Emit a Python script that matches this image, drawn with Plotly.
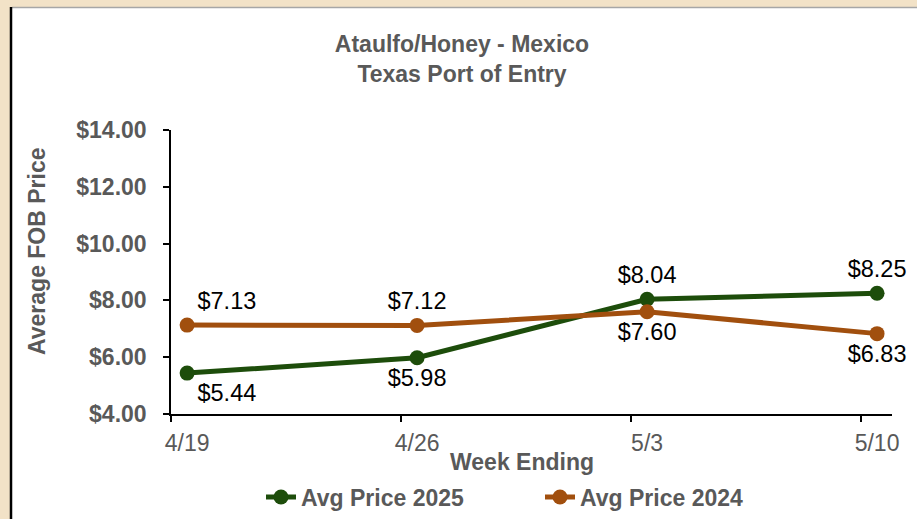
import plotly.graph_objects as go

weeks = ["4/19", "4/26", "5/3", "5/10"]
price_2025 = [5.44, 5.98, 8.04, 8.25]
price_2024 = [7.13, 7.12, 7.60, 6.83]
pos_2025 = ["bottom right", "bottom center", "top center", "top center"]
pos_2024 = ["top right", "top center", "bottom center", "bottom center"]

GREEN = "#1D4D0B"
ORANGE = "#A14F0E"
GRAY = "#595959"
BEIGE = "#F2E2C7"
FONT = "Liberation Sans, Arial, sans-serif"

xidx = list(range(len(weeks)))

fig = go.Figure()
fig.add_trace(go.Scatter(
    x=xidx, y=price_2025, name="<b>Avg Price 2025</b>", mode="lines+markers+text",
    line=dict(color=GREEN, width=5), marker=dict(color=GREEN, size=15),
    text=[f"${v:.2f}" for v in price_2025], textposition=pos_2025,
    textfont=dict(family=FONT, size=23.5, color="black"), cliponaxis=False,
))
fig.add_trace(go.Scatter(
    x=xidx, y=price_2024, name="<b>Avg Price 2024</b>", mode="lines+markers+text",
    line=dict(color=ORANGE, width=5), marker=dict(color=ORANGE, size=15),
    text=[f"${v:.2f}" for v in price_2024], textposition=pos_2024,
    textfont=dict(family=FONT, size=23.5, color="black"), cliponaxis=False,
))

L, R, T, B = 171, 25, 130, 105
W, H = 917, 519
pw, ph = W - L - R, H - T - B

def px_x(p):
    return (p - L) / pw

def px_y(p):
    return (H - B - p) / ph

shapes = [
    dict(type="rect", xref="paper", yref="paper", x0=px_x(0), x1=px_x(10), y0=px_y(H), y1=px_y(0),
         fillcolor=BEIGE, line=dict(width=0), layer="below"),
    dict(type="rect", xref="paper", yref="paper", x0=px_x(0), x1=px_x(W), y0=px_y(7), y1=px_y(0),
         fillcolor=BEIGE, line=dict(width=0), layer="below"),
    dict(type="line", xref="paper", yref="paper", x0=px_x(12), x1=px_x(W), y0=px_y(7.5), y1=px_y(7.5),
         line=dict(color="#A6A6A6", width=1.5)),
    dict(type="line", xref="paper", yref="paper", x0=px_x(11), x1=px_x(11), y0=px_y(H), y1=px_y(7),
         line=dict(color="black", width=2.5)),
]

fig.update_layout(
    width=W, height=H,
    margin=dict(l=L, r=R, t=T, b=B, autoexpand=False),
    paper_bgcolor="white", plot_bgcolor="white",
    font=dict(family=FONT, color=GRAY),
    title=dict(text="<b>Ataulfo/Honey - Mexico<br>Texas Port of Entry</b>",
               x=462 / W, xanchor="center", y=1 - 52 / H, yanchor="middle",
               font=dict(family=FONT, size=23, color=GRAY)),
    showlegend=True,
    legend=dict(orientation="h", x=px_x(540), xanchor="center", y=px_y(497), yanchor="middle",
                font=dict(family=FONT, size=23, color=GRAY), entrywidth=234,
                tracegroupgap=0, bgcolor="rgba(0,0,0,0)"),
    shapes=shapes,
    annotations=[
        dict(text="<b>Average FOB Price</b>", textangle=-90, xref="paper", yref="paper",
             x=px_x(37), y=px_y(251), showarrow=False, xanchor="center", yanchor="middle",
             font=dict(family=FONT, size=23, color=GRAY)),
        dict(text="<b>Week Ending</b>", xref="paper", yref="paper",
             x=px_x(522), y=px_y(462), showarrow=False, xanchor="center", yanchor="middle",
             font=dict(family=FONT, size=23, color=GRAY)),
    ],
)

fig.update_xaxes(
    range=[-0.07, 3.065], tickmode="array", tickvals=xidx, ticktext=weeks,
    ticks="", showgrid=False, zeroline=False,
    showline=True, linecolor="black", linewidth=1.5,
    tickfont=dict(family=FONT, size=23, color=GRAY), ticklabelstandoff=8,
    minor=dict(tick0=-0.07, dtick=1, ticks="outside", ticklen=6, tickcolor="black", tickwidth=1.5, showgrid=False),
)
fig.update_yaxes(
    range=[4, 14], dtick=2, tickprefix="$", tickformat=".2f",
    ticks="outside", ticklen=6, tickcolor="black", tickwidth=1.5,
    showgrid=False, zeroline=False, showline=True, linecolor="black", linewidth=1.5,
    tickfont=dict(family=FONT, size=23, color=GRAY, weight="bold"), ticklabelstandoff=12,
)

fig.write_html("out.html", config={"displayModeBar": False},
               post_script="document.body.style.margin='0';document.body.style.overflow='hidden';")
